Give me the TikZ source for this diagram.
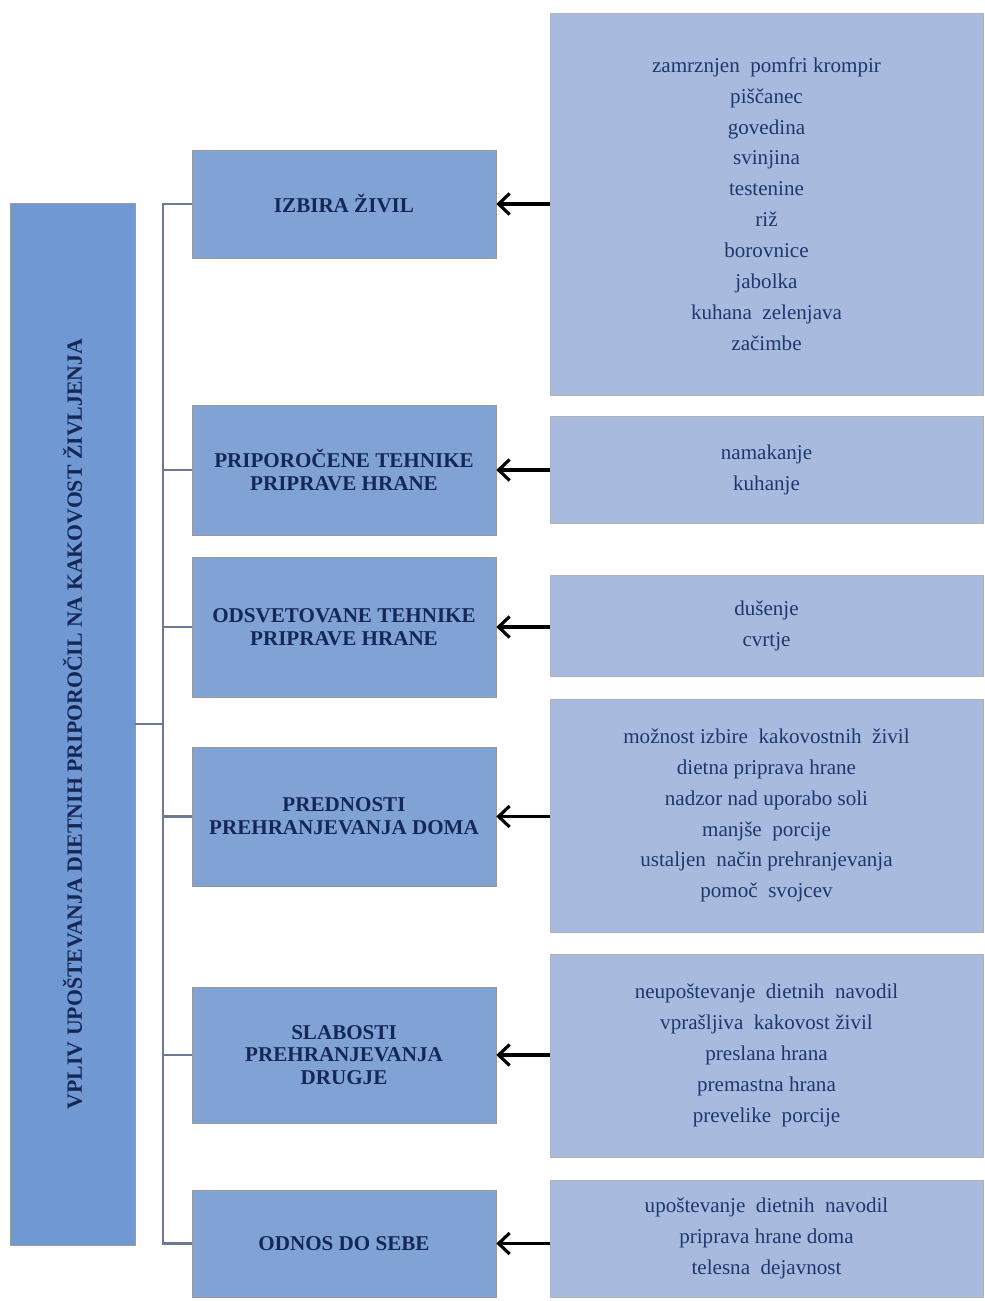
\documentclass[tikz,border=0pt]{standalone}
\usepackage{fontspec}
\setmainfont{Liberation Serif}
\usetikzlibrary{arrows.meta}

\definecolor{themeblue}{RGB}{112,152,210}
\definecolor{topicblue}{RGB}{128,162,212}
\definecolor{itemblue}{RGB}{168,187,223}
\definecolor{navy}{RGB}{20,40,88}
\definecolor{itemtext}{RGB}{30,56,110}
\definecolor{linkgray}{RGB}{110,120,150}

\begin{document}
\begin{tikzpicture}[
  x=0.02cm, y=-0.02cm,
  theme/.style={draw=black!40, fill=themeblue, minimum width=2.5cm, minimum height=20.84cm, inner sep=0pt},
  topic/.style={draw=black!40, fill=topicblue, minimum width=6.08cm, inner sep=0pt, align=center,
    text=navy, font=\fontsize{12}{13}\selectfont\bfseries},
  items/.style={draw=black!30, fill=itemblue, minimum width=8.66cm, inner sep=0pt, align=center,
    text=itemtext, font=\fontsize{12}{17.6}\selectfont},
  link/.style={draw=linkgray, line width=1.4pt},
  arr/.style={-{Straight Barb[length=2.2mm, width=4.2mm]}, line width=1.8pt}
]
\useasboundingbox (0,0) rectangle (984,1301);

% ---------- Main theme ----------
\node[theme] (main) at (72.5,724) {};
\node[rotate=90, text=navy, font=\fontsize{12.4}{13}\selectfont\bfseries] (maintext) at (main.center)
  {VPLIV UPOŠTEVANJA DIETNIH PRIPOROČIL NA KAKOVOST ŽIVLJENJA};

% ---------- Topics ----------
\node[topic, minimum height=2.16cm] (izbira)  at (344,204)    {IZBIRA ŽIVIL};
\node[topic, minimum height=2.6cm]  (pripor)  at (344,470)    {PRIPOROČENE TEHNIKE\\PRIPRAVE HRANE};
\node[topic, minimum height=2.8cm]  (odsvet)  at (344,627)    {ODSVETOVANE TEHNIKE\\PRIPRAVE HRANE};
\node[topic, minimum height=2.78cm] (predn)   at (344,816.5)  {PREDNOSTI\\PREHRANJEVANJA DOMA};
\node[topic, minimum height=2.72cm] (slab)    at (344,1055)   {SLABOSTI\\PREHRANJEVANJA\\DRUGJE};
\node[topic, minimum height=2.14cm] (odnos)   at (344,1243.5) {ODNOS DO SEBE};

% ---------- Item lists ----------
\node[items, minimum height=7.64cm] (izbiralist) at (766.5,204)
  {zamrznjen\ \ pomfri krompir\\piščanec\\govedina\\svinjina\\testenine\\riž\\borovnice\\jabolka\\kuhana\ \ zelenjava\\začimbe};
\node[items, minimum height=2.14cm] (priporlist) at (766.5,469.5)
  {namakanje\\kuhanje};
\node[items, minimum height=2.02cm] (odsvetlist) at (766.5,625.5)
  {dušenje\\cvrtje};
\node[items, minimum height=4.66cm] (prednlist) at (766.5,815.5)
  {možnost izbire\ \ kakovostnih\ \ živil\\dietna priprava hrane\\nadzor nad uporabo soli\\manjše\ \ porcije\\ustaljen\ \ način prehranjevanja\\pomoč\ \ svojcev};
\node[items, minimum height=4.06cm] (slablist) at (766.5,1055.5)
  {neupoštevanje\ \ dietnih\ \ navodil\\vprašljiva\ \ kakovost živil\\preslana hrana\\premastna hrana\\prevelike\ \ porcije};
\node[items, minimum height=2.34cm] (odnoslist) at (766.5,1238.5)
  {upoštevanje\ \ dietnih\ \ navodil\\priprava hrane doma\\telesna\ \ dejavnost};

% ---------- Bracket ----------
\coordinate (bus) at (163,724);
\draw[link] (main.east |- bus) -- (bus);
\draw[link] (izbira.west) -- (izbira.west -| bus) -- (odnos.west -| bus) -- (odnos.west);
\foreach \t in {pripor,odsvet,predn,slab}
  \draw[link] (\t.west -| bus) -- (\t.west);

% ---------- Arrows ----------
\draw[arr] (izbira.east -| izbiralist.west) -- (izbira.east);
\draw[arr] (pripor.east -| priporlist.west) -- (pripor.east);
\draw[arr] (odsvet.east -| odsvetlist.west) -- (odsvet.east);
\draw[arr] (predn.east -| prednlist.west)   -- (predn.east);
\draw[arr] (slab.east -| slablist.west)     -- (slab.east);
\draw[arr] (odnos.east -| odnoslist.west)   -- (odnos.east);
\end{tikzpicture}
\end{document}
